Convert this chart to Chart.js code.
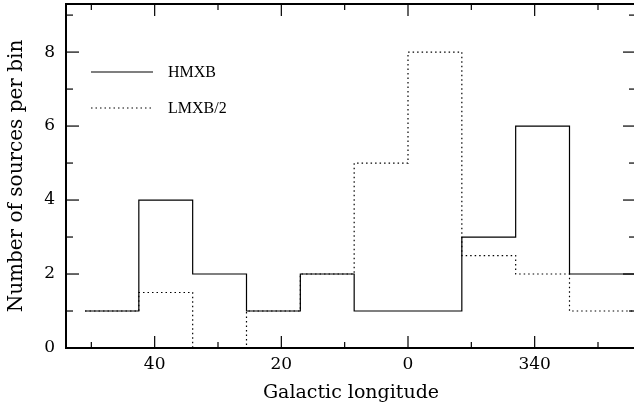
<!DOCTYPE html>
<html><head><meta charset="utf-8">
<script src="https://cdn.jsdelivr.net/npm/chart.js@4/dist/chart.umd.min.js"></script>
<style>html,body{margin:0;padding:0;background:#fff;overflow:hidden}
#wrap{position:relative;width:636px;height:405px}</style>
</head><body><div id="wrap"><canvas id="c" width="636" height="405"></canvas></div>
<script>
// Data (galactic longitude in degrees; values below 0 mean 360+value)
const binEdges = [51, 42.5, 34, 25.5, 17, 8.5, 0, -8.5, -17, -25.5, -36];
const hmxbCounts = [1, 4, 2, 1, 2, 1, 1, 3, 6, 2];
const lmxbHalfCounts = [1, 1.5, 0, 1, 2, 5, 8, 2.5, 2, 1];
const seriesLabels = ['HMXB', 'LMXB/2'];
const xTickValues = [40, 20, 0, -20];
const xTickLabels = ['40', '20', '0', '340'];
const xMinorTickValues = [50, 30, 10, -10, -30];
const yTickValues = [0, 2, 4, 6, 8];
const yMinorTickValues = [1, 3, 5, 7, 9];

function stepPoints(edges, counts) {
  return edges.map((e, i) => ({ x: e, y: counts[Math.min(i, counts.length - 1)] }));
}

const frameTicks = {
  id: 'frameTicks',
  afterDatasetsDraw(chart) {
    const { ctx, chartArea: a, scales: { x, y } } = chart;
    ctx.save();
    ctx.strokeStyle = '#000';
    ctx.lineWidth = 1.2;
    const seg = (x1, y1, x2, y2) => { ctx.beginPath(); ctx.moveTo(x1, y1); ctx.lineTo(x2, y2); ctx.stroke(); };
    const xt = (v, len) => { const p = x.getPixelForValue(v); seg(p, a.bottom, p, a.bottom - len); seg(p, a.top, p, a.top + len); };
    const yt = (v, len) => { const p = y.getPixelForValue(v); seg(a.left, p, a.left + len, p); seg(a.right, p, a.right - len, p); };
    xTickValues.forEach(v => xt(v, 12));
    xMinorTickValues.forEach(v => xt(v, 6));
    yTickValues.forEach(v => yt(v, 13));
    yMinorTickValues.forEach(v => yt(v, 7));
    ctx.lineWidth = 2;
    ctx.strokeRect(a.left, a.top, a.right - a.left, a.bottom - a.top);
    ctx.restore();
  }
};

const innerLegend = {
  id: 'innerLegend',
  afterDraw(chart) {
    const { ctx } = chart;
    ctx.save();
    const rows = [72, 108];
    chart.data.datasets.forEach((ds, i) => {
      const yy = rows[i];
      ctx.strokeStyle = ds.borderColor;
      ctx.lineWidth = ds.borderWidth;
      ctx.setLineDash(ds.borderDash || []);
      ctx.beginPath(); ctx.moveTo(91, yy); ctx.lineTo(153, yy); ctx.stroke();
      ctx.setLineDash([]);
      ctx.fillStyle = '#000';
      ctx.font = '16px "Liberation Serif"';
      ctx.textBaseline = 'middle';
      ctx.textAlign = 'left';
      ctx.fillText(ds.label, 168, yy + 1);
    });
    ctx.restore();
  }
};

new Chart(document.getElementById('c'), {
  type: 'line',
  data: {
    datasets: [
      { label: seriesLabels[0], data: stepPoints(binEdges, hmxbCounts), stepped: 'before',
        borderColor: '#000', borderWidth: 1.2, pointRadius: 0, fill: false },
      { label: seriesLabels[1], data: stepPoints(binEdges, lmxbHalfCounts), stepped: 'before',
        borderColor: '#000', borderWidth: 1.2, borderDash: [1.5, 3], pointRadius: 0, fill: false }
    ]
  },
  options: {
    responsive: false,
    animation: false,
    layout: { padding: { top: 4, right: 0, left: 0, bottom: 0 } },
    plugins: { legend: { display: false }, tooltip: { enabled: false } },
    scales: {
      x: {
        type: 'linear', reverse: true, min: -36, max: 54,
        grid: { display: false, drawTicks: false }, border: { display: false },
        afterBuildTicks: s => { s.ticks = xTickValues.map(v => ({ value: v })); },
        afterFit: s => { s.height = 57; s.paddingLeft = 0; s.paddingRight = 0; },
        ticks: { padding: 6, color: '#000', font: { family: 'DejaVu Serif', size: 17 },
          callback: v => xTickLabels[xTickValues.indexOf(v)] },
        title: { display: true, text: 'Galactic longitude', color: '#000',
          font: { family: 'DejaVu Serif', size: 19 }, padding: { top: 0, bottom: 1 } }
      },
      y: {
        min: 0, max: 9.3,
        grid: { display: false, drawTicks: false }, border: { display: false },
        afterBuildTicks: s => { s.ticks = yTickValues.map(v => ({ value: v })); },
        afterFit: s => { s.width = 66; s.paddingTop = 0; s.paddingBottom = 0; },
        ticks: { padding: 11, color: '#000', font: { family: 'DejaVu Serif', size: 17 } },
        title: { display: true, text: 'Number of sources per bin', color: '#000',
          font: { family: 'DejaVu Serif', size: 20 }, padding: { top: 5, bottom: 0 } }
      }
    }
  },
  plugins: [frameTicks, innerLegend]
});
</script></body></html>
